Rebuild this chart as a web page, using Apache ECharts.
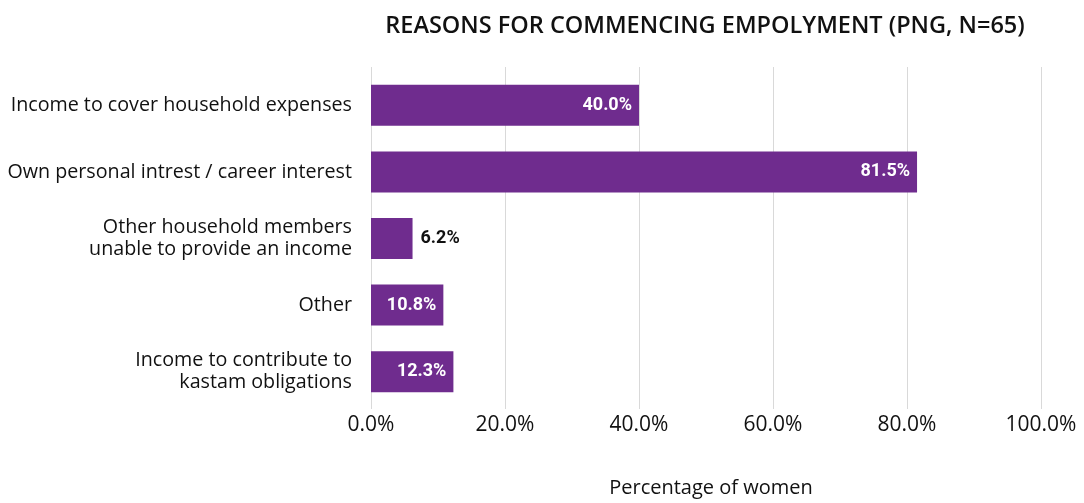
<!DOCTYPE html>
<html>
<head>
<meta charset="utf-8">
<script src="https://cdn.jsdelivr.net/npm/echarts@6/dist/echarts.min.js"></script>
<style>
  html, body { margin: 0; padding: 0; background: #fff; }
  #chart { width: 1084px; height: 503px; }
</style>
</head>
<body>
<div id="chart"></div>
<script>
// Survey categories, top to bottom
const categories = [
  'Income to cover household expenses',
  'Own personal intrest / career interest',
  'Other household members\nunable to provide an income',
  'Other',
  'Income to contribute to\nkastam obligations'
];
// Share of women giving each reason (%)
const shares = [40.0, 81.5, 6.2, 10.8, 12.3];
// Value axis ticks (%)
const ticks = [0, 20, 40, 60, 80, 100];

const purple = '#6F2C8E';
const baseFont = '"Open Sans", Lato, sans-serif';
const valueFont = 'Roboto, "Open Sans", sans-serif';

// Short bars carry their label outside in dark text
const barData = shares.map(v => {
  const inside = v >= 8;
  return {
    value: v,
    label: inside
      ? { position: 'insideRight', color: '#fff', offset: [-2, 0] }
      : { position: 'right', color: '#111', distance: 8 }
  };
});

const chart = echarts.init(document.getElementById('chart'));
chart.setOption({
  animation: false,
  title: {
    text: 'REASONS FOR COMMENCING EMPOLYMENT (PNG, N=65)',
    left: 700, top: 9, textAlign: 'center',
    textStyle: { fontFamily: baseFont, fontSize: 23.5, fontWeight: 600, color: '#111' }
  },
  grid: [
    // grid holding the gridlines and tick labels
    { left: 371, right: 43, top: 67, bottom: 81 },
    // grid holding the bars
    { left: 371, right: 43, top: 72, bottom: 98 }
  ],
  xAxis: [
    {
      gridIndex: 0, type: 'value', min: ticks[0], max: ticks[ticks.length - 1], interval: 20,
      axisLine: { show: false }, axisTick: { show: false },
      splitLine: { show: true, lineStyle: { color: '#d9d9d9', width: 1 } },
      axisLabel: {
        margin: 6, fontFamily: baseFont, fontSize: 21, color: '#111',
        formatter: v => v.toFixed(1) + '%'
      },
      name: 'Percentage of women', nameLocation: 'middle', nameGap: 69,
      nameTextStyle: { fontFamily: baseFont, fontSize: 20, color: '#111', padding: [0, 0, 0, 10] }
    },
    {
      gridIndex: 1, type: 'value', min: ticks[0], max: ticks[ticks.length - 1],
      show: false
    }
  ],
  yAxis: [
    { gridIndex: 0, type: 'category', data: categories, show: false, inverse: true },
    {
      gridIndex: 1, type: 'category', data: categories, inverse: true,
      axisLine: { show: false }, axisTick: { show: false },
      axisLabel: {
        margin: 19, fontFamily: baseFont, fontSize: 19.7, color: '#111',
        lineHeight: 22, align: 'right'
      }
    }
  ],
  series: [{
    type: 'bar', xAxisIndex: 1, yAxisIndex: 1,
    data: barData, barWidth: 41,
    itemStyle: { color: purple },
    label: {
      show: true, fontFamily: valueFont, fontSize: 18, fontWeight: 'bold',
      formatter: p => p.value.toFixed(1) + '%'
    }
  }]
});
</script>
</body>
</html>
